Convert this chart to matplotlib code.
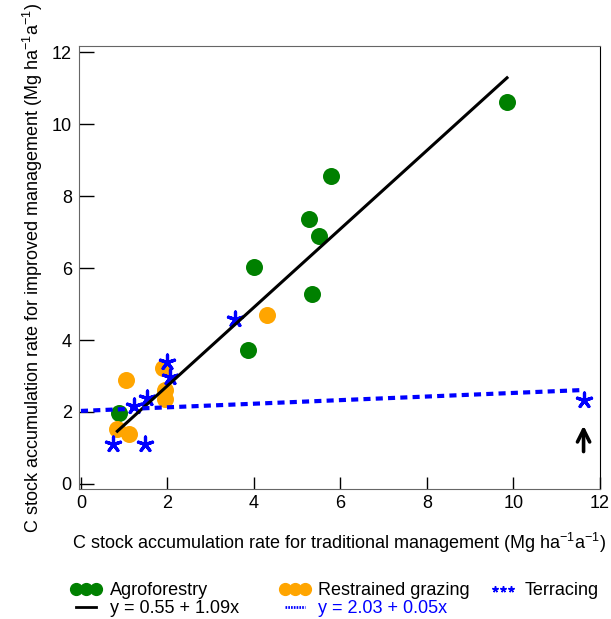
import numpy as np
import matplotlib.pyplot as plt
from matplotlib.lines import Line2D

plt.rcParams['font.family'] = ['Liberation Sans', 'DejaVu Sans']
plt.rcParams['mathtext.fontset'] = 'custom'
plt.rcParams['mathtext.rm'] = 'Liberation Sans'
plt.rcParams['mathtext.it'] = 'Liberation Sans:italic'

# agroforestry
agro_x = [9.85, 5.77, 5.28, 5.50, 4.00, 5.35, 3.85, 0.89]
agro_y = [10.6, 8.55, 7.35, 6.88, 6.02, 5.28, 3.72, 1.97]
# restrained grazing
graz_x = [4.30, 1.03, 1.90, 1.95, 1.95, 0.84, 1.10]
graz_y = [4.70, 2.90, 3.22, 2.62, 2.35, 1.52, 1.40]
# terracing
terr_x = [3.57, 1.98, 2.05, 1.53, 1.22, 0.75, 1.47, 11.62]
terr_y = [4.58, 3.40, 2.97, 2.38, 2.17, 1.10, 1.10, 2.33]

fit1 = (0.55, 1.09)
fit2 = (2.03, 0.05)

fs = 13

fig = plt.figure(figsize=(6.11, 6.19), dpi=100)
ax = fig.add_axes([0.129, 0.21, 0.853, 0.7157])

ax.scatter(agro_x, agro_y, s=150, color='#008000', zorder=3, linewidths=0)
ax.scatter(graz_x, graz_y, s=150, color='#ffa500', zorder=3, linewidths=0)
ax.scatter(terr_x, terr_y, s=115, marker=(5, 2, 0), color='#0000ff',
           linewidths=2.3, zorder=4)

xs = np.array([min(graz_x), max(agro_x)])
ax.plot(xs, fit1[0] + fit1[1] * xs, color='black', lw=2.2, zorder=5)
xt = np.array([0, max(terr_x)])
ax.plot(xt, fit2[0] + fit2[1] * xt, color='#0000ff', lw=3.0,
        dashes=(1.7, 1.25), zorder=5)

ax.annotate('', xy=(terr_x[-1], 1.62), xytext=(terr_x[-1], 0.9),
            arrowprops=dict(arrowstyle='->', color='black', lw=2.6,
                            mutation_scale=22, shrinkA=0, shrinkB=0))

ax.set_xlim(-0.05, 12)
ax.set_ylim(-0.14, 12.17)
ax.set_xticks(range(0, 13, 2))
ax.set_yticks(range(0, 13, 2))
ax.tick_params(axis='x', direction='in', length=9, width=1, labelsize=fs, pad=4)
ax.tick_params(axis='y', direction='in', length=11, width=1, labelsize=fs, pad=5)
for s in ['left', 'top', 'bottom']:
    ax.spines[s].set_color('#666666')
ax.spines['right'].set_color('black')

ax.set_xlabel('C stock accumulation rate for traditional management (Mg ha$^{-1}$a$^{-1}$)',
              fontsize=fs, labelpad=14)
ax.set_ylabel('C stock accumulation rate for improved management (Mg ha$^{-1}$a$^{-1}$)',
              fontsize=fs, labelpad=5)

h_agro = Line2D([], [], ls='', marker='o', ms=8.5, color='#008000')
h_graz = Line2D([], [], ls='', marker='o', ms=8.5, color='#ffa500')
h_terr = Line2D([], [], ls='', marker=(5, 2, 0), ms=4.5, mew=1.1, color='#0000ff')
h_f1 = Line2D([], [], color='black', lw=2)
h_f2 = Line2D([], [], color='#0000ff', lw=2, ls=(0, (0.6, 0.4)))

columns = [([h_agro, h_f1], ['Agroforestry', 'y = 0.55 + 1.09x'], 0.116, 1.7),
           ([h_graz, h_f2], ['Restrained grazing', 'y = 2.03 + 0.05x'], 0.457, 1.7),
           ([h_terr], ['Terracing'], 0.802, 1.45)]
for handles, labels, x0, hl in columns:
    leg = fig.legend(handles, labels, numpoints=3, frameon=False, fontsize=fs,
                     loc='upper left', bbox_to_anchor=(x0, 0.059),
                     borderpad=0, borderaxespad=0, handlelength=hl,
                     handletextpad=0.45, labelspacing=0.05)
    if len(labels) > 1 and labels[1].startswith('y = 2.03'):
        leg.get_texts()[1].set_color('#0000ff')

fig.savefig('out.png', dpi=100)
